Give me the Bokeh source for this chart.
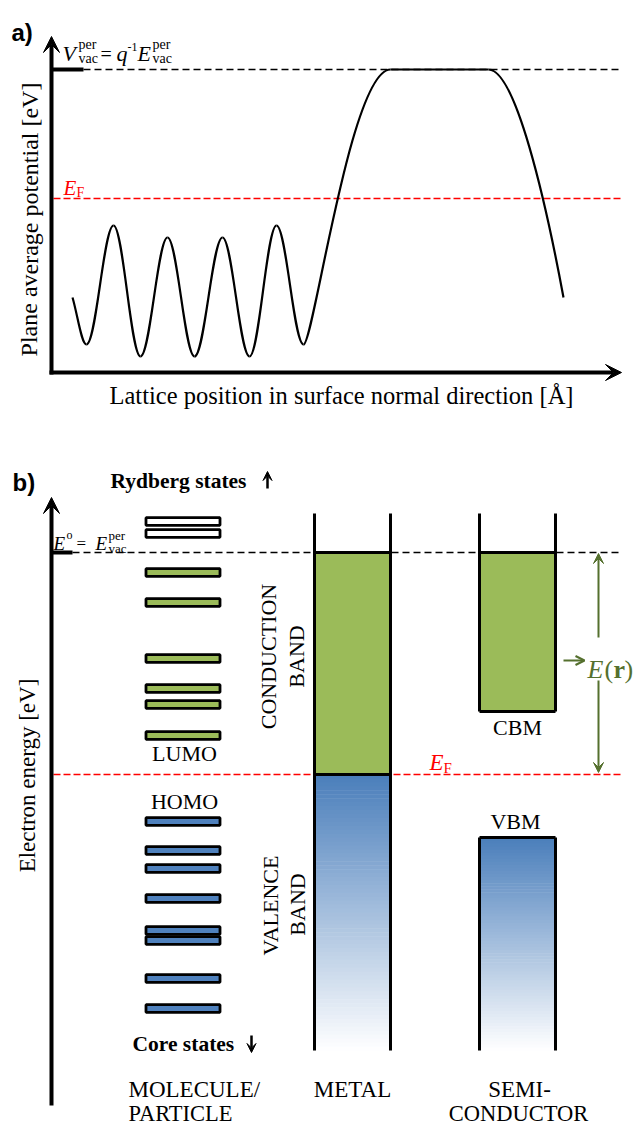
from bokeh.plotting import figure
from bokeh.models import Range1d, Arrow, VeeHead, OpenHead
from bokeh.core.properties import value
from bokeh.embed import file_html
from bokeh.resources import INLINE

# ---------------- data (schematic units: page pixels, y downward) ----------------
# Panel a: plane-average potential, extrema
osc_x = [72, 86, 113, 140, 167, 194, 222, 249, 276, 303]
osc_y = [297, 344, 225, 356, 237, 356, 237, 356, 225, 344]
vac_a = 69          # vacuum level (panel a)
ef_a = 198          # Fermi level (panel a)
plateau_x = [390, 488]
tail_end = [563, 297]

# Panel b: energy levels
vac_b = 552
ef_b = 774
rydberg_levels = [521, 533]
lumo_levels = [572, 602, 658, 688, 704, 735]
homo_levels = [821, 850, 868, 898, 930, 940, 978, 1008]
metal_x = [314, 390]
semi_x = [479, 555]
band_top = 513
band_bottom = 1050
cbm = 711
vbm = 837

GREEN = "#9bbb59"
BLUE = (74, 126, 187)
OLIVE = "#55702e"
SERIF = "Liberation Serif"

p = figure(width=636, height=1126, x_range=Range1d(0, 636), y_range=Range1d(1126, 0),
           output_backend="svg", toolbar_location=None, min_border=0,
           x_axis_type=None, y_axis_type=None)
p.grid.visible = False
p.outline_line_color = None
p.background_fill_color = "white"


def txt(x, y, s, size, font=SERIF, style="normal", color="black", align="left",
        baseline="alphabetic", angle=0.0):
    p.text(x=[x], y=[y], text=[s], text_font=value(font), text_font_size=f"{size}px",
           text_font_style=style, text_color=color, text_align=align,
           text_baseline=baseline, angle=angle)


def arrow(x0, y0, x1, y1, lw=4, size=16, color="black", open_head=False):
    head = (OpenHead(size=size, line_color=color, line_width=lw) if open_head
            else VeeHead(size=size, fill_color=color, line_color=color))
    p.add_layout(Arrow(end=head, x_start=x0, y_start=y0, x_end=x1, y_end=y1,
                       line_width=lw, line_color=color))


# ======================= Panel a =======================
txt(11, 32, "a)", 24, font="Liberation Sans", style="bold")
axis_a_y = 372
arrow(51, axis_a_y + 2, 51, 36)
arrow(49, axis_a_y, 621, axis_a_y)

# vacuum level & Fermi level
p.segment(x0=[51], y0=[vac_a], x1=[83], y1=[vac_a], line_width=4, line_color="black")
p.segment(x0=[83], y0=[vac_a], x1=[620], y1=[vac_a], line_width=1.4, line_color="black",
          line_dash="7 4")
p.segment(x0=[53], y0=[ef_a], x1=[620], y1=[ef_a], line_width=1.6, line_color="red",
          line_dash="7 3")

# potential curve: cubic Bezier pieces with horizontal tangents at extrema
k = 0.36
bx0, by0, bx1, by1, cx0, cy0, cx1, cy1 = [], [], [], [], [], [], [], []
for i in range(len(osc_x) - 1):
    xa, ya, xb, yb = osc_x[i], osc_y[i], osc_x[i + 1], osc_y[i + 1]
    dx = xb - xa
    if i == 0:
        c0 = (xa + 0.35 * dx, ya + 0.35 * (yb - ya))
    else:
        c0 = (xa + k * dx, ya)
    c1 = (xb - k * dx, yb)
    bx0.append(xa); by0.append(ya); bx1.append(xb); by1.append(yb)
    cx0.append(c0[0]); cy0.append(c0[1]); cx1.append(c1[0]); cy1.append(c1[1])
# rise to vacuum plateau
bx0.append(osc_x[-1]); by0.append(osc_y[-1]); bx1.append(plateau_x[0]); by1.append(vac_a)
cx0.append(osc_x[-1] + 10); cy0.append(osc_y[-1]); cx1.append(plateau_x[0] - 40); cy1.append(vac_a)
# descent after plateau
bx0.append(plateau_x[1]); by0.append(vac_a); bx1.append(tail_end[0]); by1.append(tail_end[1])
cx0.append(plateau_x[1] + 27); cy0.append(vac_a); cx1.append(tail_end[0] - 18); cy1.append(200)
p.bezier(x0=bx0, y0=by0, x1=bx1, y1=by1, cx0=cx0, cy0=cy0, cx1=cx1, cy1=cy1,
         line_width=2.2, line_color="black")
p.segment(x0=[plateau_x[0]], y0=[vac_a], x1=[plateau_x[1]], y1=[vac_a], line_width=2.2,
          line_color="black")

# labels panel a
txt(62, 53, "V", 22, style="italic")
txt(78, 44, "per", 14)
txt(78, 58, "vac", 14)
txt(100, 53, "=", 20)
txt(116, 53, "q", 22, style="italic")
txt(127, 46, "-1", 12)
txt(137, 53, "E", 22, style="italic")
txt(152, 44, "per", 14)
txt(152, 58, "vac", 14)

txt(63, 187, "E", 21, style="italic", color="red")
txt(76, 192, "F", 14, color="red")

txt(29, 219, "Plane average potential [eV]", 24, align="center", baseline="middle",
    angle=1.5707963)
txt(341, 395, "Lattice position in surface normal direction [Å]", 24.5, align="center",
    baseline="middle")

# ======================= Panel b =======================
txt(12, 482, "b)", 24, font="Liberation Sans", style="bold")
arrow(51, 1105, 51, 497)
p.segment(x0=[51], y0=[vac_b], x1=[72], y1=[vac_b], line_width=4, line_color="black")
p.segment(x0=[72], y0=[vac_b], x1=[620], y1=[vac_b], line_width=1.4, line_color="black",
          line_dash="7 4")

# gradient valence bands (drawn as thin strips)
def gradient(x0, x1, y0, y1, n=70):
    tops, bots, cols = [], [], []
    h = (y1 - y0) / n
    for i in range(n):
        f = (i + 0.5) / n
        c = tuple(int(round(BLUE[j] + (255 - BLUE[j]) * f)) for j in range(3))
        tops.append(y0 + i * h)
        bots.append(y0 + (i + 1) * h + 0.6)
        cols.append("#%02x%02x%02x" % c)
    p.quad(left=[x0] * n, right=[x1] * n, top=tops, bottom=bots, fill_color=cols,
           line_color=None)

# metal
p.quad(left=[metal_x[0]], right=[metal_x[1]], top=[vac_b], bottom=[ef_b],
       fill_color=GREEN, line_color=None)
gradient(metal_x[0], metal_x[1], ef_b, band_bottom)
# semiconductor
p.quad(left=[semi_x[0]], right=[semi_x[1]], top=[vac_b], bottom=[cbm],
       fill_color=GREEN, line_color=None)
gradient(semi_x[0], semi_x[1], vbm, band_bottom)

# red Fermi line panel b
p.segment(x0=[53], y0=[ef_b], x1=[620], y1=[ef_b], line_width=1.6, line_color="red",
          line_dash="7 3")

# outlines
lw = 3
p.segment(x0=[metal_x[0], metal_x[1], metal_x[0], metal_x[0]],
          y0=[band_top, band_top, vac_b, ef_b],
          x1=[metal_x[0], metal_x[1], metal_x[1], metal_x[1]],
          y1=[band_bottom, band_bottom, vac_b, ef_b], line_width=lw, line_color="black")
p.segment(x0=[semi_x[0], semi_x[1], semi_x[0], semi_x[0], semi_x[0], semi_x[1], semi_x[0]],
          y0=[band_top, band_top, vac_b, cbm, vbm, vbm, vbm],
          x1=[semi_x[0], semi_x[1], semi_x[1], semi_x[1], semi_x[0], semi_x[1], semi_x[1]],
          y1=[cbm, cbm, vac_b, cbm, band_bottom, band_bottom, vbm],
          line_width=lw, line_color="black")

# molecular levels
mx0, mx1, hh = 145.5, 219.5, 3.8
def levels(ys, fill):
    p.quad(left=[mx0] * len(ys), right=[mx1] * len(ys), top=[y - hh for y in ys],
           bottom=[y + hh for y in ys], fill_color=fill, line_color="black", line_width=2.8)
levels(rydberg_levels, "white")
levels(lumo_levels, GREEN)
levels(homo_levels, "#4f81bd")

# E(r) arrow
arrow(598, 637, 598, 553, lw=2, size=10, color=OLIVE)
arrow(598, 680, 598, 772, lw=2, size=10, color=OLIVE)
arrow(563, 660, 584, 660, lw=2.2, size=9, color=OLIVE, open_head=True)

# labels panel b
txt(110, 480, "Rydberg states", 21.5, style="bold", baseline="middle")
arrow(267, 488, 267, 471, lw=2.5, size=9)
txt(132, 1043, "Core states", 21.5, style="bold", baseline="middle")
arrow(251, 1035, 251, 1052, lw=2.5, size=9)
txt(184, 753, "LUMO", 22, align="center", baseline="middle")
txt(184, 801, "HOMO", 22, align="center", baseline="middle")
txt(128, 1089, "MOLECULE/", 23, baseline="middle")
txt(128, 1113, "PARTICLE", 22.5, baseline="middle")
txt(352, 1089, "METAL", 23, align="center", baseline="middle")
txt(519, 1089, "SEMI-", 23, align="center", baseline="middle")
txt(518, 1113, "CONDUCTOR", 22.5, align="center", baseline="middle")
txt(517, 727, "CBM", 22, align="center", baseline="middle")
txt(515, 821, "VBM", 22, align="center", baseline="middle")
txt(268, 656, "CONDUCTION", 22, align="center", baseline="middle", angle=1.5707963)
txt(296, 656, "BAND", 22, align="center", baseline="middle", angle=1.5707963)
txt(270, 905, "VALENCE", 22, align="center", baseline="middle", angle=1.5707963)
txt(297, 904, "BAND", 22, align="center", baseline="middle", angle=1.5707963)
txt(27, 775, "Electron energy [eV]", 23, align="center", baseline="middle", angle=1.5707963)

txt(53, 543, "E", 19, style="italic")
txt(66, 534, "o", 12)
txt(76, 543, "=", 17)
txt(95, 543, "E", 19, style="italic")
txt(108, 535, "per", 13)
txt(108, 548, "vac", 13)

txt(429, 762, "E", 23, style="italic", color="red")
txt(443, 767, "F", 15, color="red")

txt(587, 669, "E", 26, style="italic", color=OLIVE)
txt(604, 669, "(", 26, color=OLIVE)
txt(613, 669, "r", 26, style="bold", color=OLIVE)
txt(624, 669, ")", 26, color=OLIVE)

open("out.html", "w").write(file_html(p, INLINE))
